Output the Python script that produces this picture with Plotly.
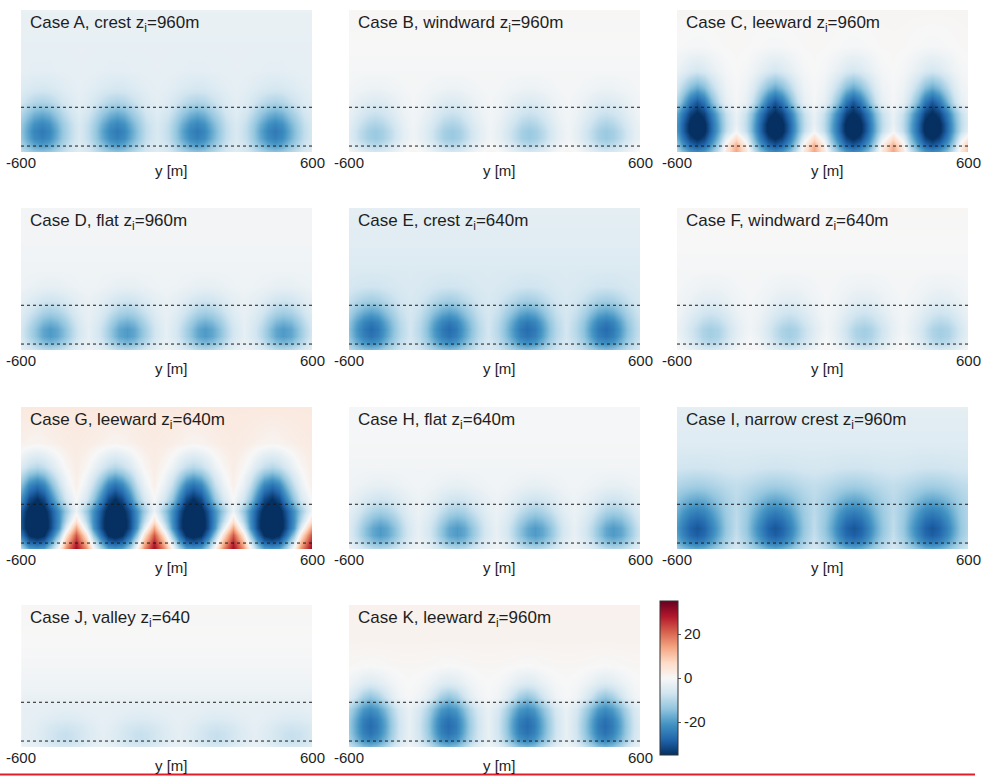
import plotly.graph_objects as go

# Lateral coordinate y [m] and normalised height of the section grid
Y_RANGE = [-600, 600]
Y_TICKS = [-600, 600]
HEIGHTS = [0.0, 0.05, 0.10, 0.15, 0.20, 0.27, 0.35, 0.45, 0.58, 0.75, 1.0]
# distance [m] from a cell centre for the section columns; the last column is mid-gap
OFFSETS = [0, 30, 60, 90, 120]
DASHED_LEVELS = [0.315, 0.042]

TITLES = [
    "Case A, crest z<sub>i</sub>=960m",
    "Case B, windward z<sub>i</sub>=960m",
    "Case C, leeward z<sub>i</sub>=960m",
    "Case D, flat z<sub>i</sub>=960m",
    "Case E, crest z<sub>i</sub>=640m",
    "Case F, windward z<sub>i</sub>=640m",
    "Case G, leeward z<sub>i</sub>=640m",
    "Case H, flat z<sub>i</sub>=640m",
    "Case I, narrow crest z<sub>i</sub>=960m",
    "Case J, valley z<sub>i</sub>=640",
    "Case K, leeward z<sub>i</sub>=960m",
]

# roll-cell centres [m] per case
A_CELLS = [-515, -205, 125, 447]
B_CELLS = [-493, -177, 143, 460]
C_CELLS = [-518, -196, 126, 452]
D_CELLS = [-480, -164, 159, 482]
E_CELLS = [-510, -188, 135, 458]
F_CELLS = [-463, -139, 170, 486]
G_CELLS = [-535, -212, 111, 434]
H_CELLS = [-472, -156, 167, 490]
I_CELLS = [-518, -195, 128, 452]
J_CELLS = [-419, -109, 207, 516]
K_CELLS = [-513, -190, 133, 456]

# section values: one row per height level, columns = OFFSETS + mid-gap
A_SECTION = [
    [-14, -13.1, -10.7, -8.1, -5.9, -4.2],
    [-20, -18.5, -14.9, -10.8, -7.3, -4.7],
    [-24, -22.2, -17.8, -12.8, -8.6, -5.4],
    [-25, -23.1, -18.5, -13.2, -8.8, -5.5],
    [-23, -21.3, -17.1, -12.4, -8.4, -5.3],
    [-18, -16.7, -13.5, -9.9, -6.8, -4.5],
    [-11, -10.3, -8.5, -6.5, -4.8, -3.6],
    [-6, -5.7, -5.1, -4.3, -3.7, -3.2],
    [-3.5, -3.5, -3.3, -3.2, -3.1, -3],
    [-3, -3, -3, -3, -3, -3],
    [-2.5, -2.5, -2.5, -2.5, -2.5, -2.5],
]
B_SECTION = [
    [-6, -5.3, -3.7, -1.8, -0.2, 1],
    [-10, -9.1, -6.7, -4.1, -1.9, -0.2],
    [-13, -11.9, -9.1, -6, -3.4, -1.4],
    [-13, -11.9, -9.1, -6, -3.4, -1.4],
    [-11, -10.1, -7.7, -5.1, -2.9, -1.2],
    [-8, -7.3, -5.7, -3.8, -2.2, -1],
    [-5, -4.6, -3.6, -2.5, -1.5, -0.8],
    [-2, -1.9, -1.5, -1.2, -0.8, -0.6],
    [-0.5, -0.5, -0.5, -0.5, -0.5, -0.5],
    [0, 0, 0, 0, 0, 0],
    [0.3, 0.3, 0.3, 0.3, 0.3, 0.3],
]
C_SECTION = [
    [-22, -20, -14.6, -6.9, 4, 14],
    [-30, -27.3, -20.2, -10.8, 2, 12.5],
    [-36, -32.8, -24.6, -14.6, -3.5, 6],
    [-40, -36.4, -27.6, -17.6, -8.6, -1],
    [-40, -36.4, -27.6, -17.6, -9.2, -2.5],
    [-36, -32.8, -24.8, -15.8, -8.3, -2.3],
    [-30, -25.5, -16.5, -8.4, -3, -0.6],
    [-18, -15.3, -9.9, -5, -1.8, -0.4],
    [-6, -5.1, -3.3, -1.7, -0.6, 0],
    [-0.5, -0.4, -0.2, 0, 0.2, 0.3],
    [0.5, 0.5, 0.5, 0.5, 0.5, 0.5],
]
D_SECTION = [
    [-10, -9.2, -7.2, -5, -3.1, -1.6],
    [-16, -14.7, -11.5, -7.9, -4.8, -2.5],
    [-20, -18.4, -14.4, -9.9, -6.1, -3.3],
    [-20, -18.4, -14.4, -9.9, -6.1, -3.3],
    [-17, -15.7, -12.4, -8.6, -5.5, -3.1],
    [-12, -11.1, -8.9, -6.4, -4.3, -2.7],
    [-7, -6.6, -5.5, -4.2, -3.2, -2.4],
    [-3, -2.9, -2.5, -2.2, -1.8, -1.6],
    [-1.5, -1.5, -1.5, -1.5, -1.5, -1.5],
    [-1, -1, -1, -1, -1, -1],
    [-1, -1, -1, -1, -1, -1],
]
E_SECTION = [
    [-15, -14.1, -11.7, -9.1, -6.9, -5.2],
    [-22, -20.4, -16.6, -12.2, -8.5, -5.7],
    [-26, -24.1, -19.5, -14.2, -9.8, -6.5],
    [-27, -25, -20.2, -14.7, -10.1, -6.5],
    [-25, -23.2, -18.8, -13.8, -9.6, -6.4],
    [-19, -17.7, -14.7, -11.2, -8.2, -6],
    [-12, -11.4, -9.8, -8.1, -6.6, -5.5],
    [-7, -6.8, -6.4, -5.9, -5.5, -5.1],
    [-5, -5, -5, -5, -5, -5],
    [-4, -4, -4, -4, -4, -4],
    [-3.5, -3.5, -3.5, -3.5, -3.5, -3.5],
]
F_SECTION = [
    [-6, -5.3, -3.7, -1.8, -0.2, 1],
    [-10, -9.1, -6.7, -4.1, -1.9, -0.2],
    [-12, -10.9, -8.3, -5.3, -2.8, -0.8],
    [-12, -11, -8.4, -5.6, -3.1, -1.3],
    [-10, -9.1, -7.1, -4.7, -2.7, -1.2],
    [-7, -6.4, -5, -3.4, -2, -1],
    [-4, -3.7, -2.9, -2, -1.3, -0.7],
    [-2, -1.9, -1.5, -1.2, -0.8, -0.6],
    [-0.5, -0.5, -0.5, -0.5, -0.5, -0.5],
    [0, 0, 0, 0, 0, 0],
    [0.3, 0.3, 0.3, 0.3, 0.3, 0.3],
]
G_SECTION = [
    [-20, -18.6, -10.8, 1.5, 17, 30],
    [-30, -27.9, -18.7, -5, 11.5, 27],
    [-38, -35.3, -26.3, -13, 5, 22],
    [-42, -39, -31.1, -20, -4, 14],
    [-42, -39, -31.3, -21.4, -9.5, 5],
    [-40, -37.2, -30, -21.2, -12.8, -2],
    [-35, -31.5, -22.8, -13.3, -6, 0],
    [-26, -22.9, -15.6, -8, -2.5, 2],
    [-10, -8.5, -5.5, -2, 0.5, 2.5],
    [1, 1.3, 1.8, 2.3, 2.7, 3],
    [3.5, 3.5, 3.5, 3.5, 3.5, 3.5],
]
H_SECTION = [
    [-10, -9.1, -7.1, -4.7, -2.7, -1.2],
    [-16, -14.7, -11.4, -7.6, -4.5, -2.1],
    [-20, -18.3, -14.3, -9.6, -5.8, -2.8],
    [-20, -18.3, -14.3, -9.6, -5.8, -2.8],
    [-17, -15.6, -12.2, -8.3, -5.1, -2.6],
    [-12, -11.1, -8.7, -6.1, -3.9, -2.2],
    [-7, -6.5, -5.3, -3.9, -2.8, -1.9],
    [-3, -2.8, -2.4, -1.9, -1.5, -1.1],
    [-1, -1, -1, -1, -1, -1],
    [-0.5, -0.5, -0.5, -0.5, -0.5, -0.5],
    [-0.5, -0.5, -0.5, -0.5, -0.5, -0.5],
]
I_SECTION = [
    [-18, -17, -14.5, -11.4, -8.5, -6],
    [-25, -23.6, -19.9, -15.4, -11.1, -7.4],
    [-29, -27.3, -23, -17.7, -12.7, -8.4],
    [-30, -28.3, -23.9, -18.5, -13.3, -8.9],
    [-28, -26.5, -22.5, -17.7, -13, -9.1],
    [-24, -22.8, -19.8, -16, -12.4, -9.4],
    [-18, -17.3, -15.5, -13.3, -11.2, -9.4],
    [-12, -11.7, -11, -10.1, -9.3, -8.6],
    [-7, -6.9, -6.8, -6.5, -6.3, -6.1],
    [-4.5, -4.5, -4.5, -4.5, -4.5, -4.5],
    [-3.5, -3.5, -3.5, -3.5, -3.5, -3.5],
]
J_SECTION = [
    [-6, -5.6, -4.8, -3.8, -2.9, -2.3],
    [-8, -7.6, -6.5, -5.2, -4.2, -3.4],
    [-8, -7.6, -6.5, -5.2, -4.2, -3.4],
    [-7, -6.6, -5.8, -4.8, -3.9, -3.3],
    [-5, -4.8, -4.4, -3.9, -3.5, -3.1],
    [-3.5, -3.5, -3.3, -3.2, -3.1, -3],
    [-2.5, -2.5, -2.5, -2.5, -2.5, -2.5],
    [-1.5, -1.5, -1.5, -1.5, -1.5, -1.5],
    [-0.7, -0.7, -0.7, -0.7, -0.7, -0.7],
    [0, 0, 0, 0, 0, 0],
    [0.3, 0.3, 0.3, 0.3, 0.3, 0.3],
]
K_SECTION = [
    [-16, -14.6, -11, -7, -3.7, -1.1],
    [-23, -21, -16.2, -10.7, -6.1, -2.5],
    [-26, -23.8, -18.3, -12, -6.8, -2.8],
    [-27, -24.7, -18.9, -12.4, -7, -2.8],
    [-26, -23.8, -18.3, -12, -6.8, -2.8],
    [-22, -20.1, -15.5, -10.2, -5.8, -2.5],
    [-14, -11.9, -7.7, -3.9, -1.4, -0.3],
    [-5, -4.3, -2.8, -1.4, -0.5, 0],
    [0, 0.1, 0.3, 0.4, 0.5, 0.5],
    [1.2, 1.2, 1.2, 1.2, 1.2, 1.2],
    [1.5, 1.5, 1.5, 1.5, 1.5, 1.5],
]

CELLS = [A_CELLS, B_CELLS, C_CELLS, D_CELLS, E_CELLS, F_CELLS,
         G_CELLS, H_CELLS, I_CELLS, J_CELLS, K_CELLS]
SECTIONS = [A_SECTION, B_SECTION, C_SECTION, D_SECTION, E_SECTION, F_SECTION,
            G_SECTION, H_SECTION, I_SECTION, J_SECTION, K_SECTION]

COLORBAR_TICKS = [-20, 0, 20]
C_LIMITS = [-35, 35]

RDBU_R = [
    [0.0, "rgb(5,48,97)"], [0.1, "rgb(33,102,172)"], [0.2, "rgb(67,147,195)"],
    [0.3, "rgb(146,197,222)"], [0.4, "rgb(209,229,240)"], [0.5, "rgb(247,247,247)"],
    [0.6, "rgb(253,219,199)"], [0.7, "rgb(244,165,130)"], [0.8, "rgb(214,96,77)"],
    [0.9, "rgb(178,24,43)"], [1.0, "rgb(103,0,31)"],
]

W, H = 983, 777
COL_LEFT = [21, 349, 677]
PANEL_W = 291
ROW_TOP = [10, 208, 407, 605]
PANEL_H = 142
FONT = "Liberation Sans, Arial, sans-serif"
TXT = "#1e1e1e"


def section_grid(cells, section):
    """Lay the section columns symmetrically around every cell centre."""
    gap = len(OFFSETS)
    half = 160
    ring = [(-o, i) for i, o in reversed(list(enumerate(OFFSETS))) if o > 0]
    ring += [(o, i) for i, o in enumerate(OFFSETS)]
    xs, cols = [cells[0] - half], [gap]
    for k, c in enumerate(cells):
        for off, ci in ring:
            xs.append(c + off)
            cols.append(ci)
        xs.append((c + cells[k + 1]) / 2 if k < len(cells) - 1 else c + half)
        cols.append(gap)
    z = [[row[ci] for ci in cols] for row in section]
    return xs, z


fig = go.Figure()
shapes, annotations = [], []

for n in range(11):
    r, c = divmod(n, 3)
    ax = "" if n == 0 else str(n + 1)
    x0 = COL_LEFT[c] / W
    x1 = (COL_LEFT[c] + PANEL_W) / W
    y1 = 1 - ROW_TOP[r] / H
    y0 = 1 - (ROW_TOP[r] + PANEL_H) / H

    xs, z = section_grid(CELLS[n], SECTIONS[n])
    fig.add_trace(go.Heatmap(
        x=xs, y=HEIGHTS, z=z, coloraxis="coloraxis", zsmooth="best",
        xaxis="x" + ax, yaxis="y" + ax, hoverinfo="skip",
    ))

    fig.layout["xaxis" + ax] = dict(
        domain=[x0, x1], anchor="y" + ax, range=Y_RANGE,
        showticklabels=False, ticks="",
        showgrid=False, zeroline=False, showline=False,
    )
    fig.layout["yaxis" + ax] = dict(
        domain=[y0, y1], anchor="x" + ax, range=[0, 1],
        visible=False, showgrid=False, zeroline=False,
    )

    for lev in DASHED_LEVELS:
        shapes.append(dict(
            type="line", xref="x" + ax + " domain", yref="y" + ax,
            x0=0, x1=1, y0=lev, y1=lev,
            line=dict(color="#1a1a1a", width=1, dash="3px,3px"),
        ))

    # panel title inside the top-left corner
    annotations.append(dict(
        text=TITLES[n], xref="x" + ax + " domain", yref="y" + ax + " domain",
        x=7 / PANEL_W, y=1 - 1 / PANEL_H, xanchor="left", yanchor="top",
        showarrow=False, font=dict(size=17, family=FONT, color=TXT),
    ))
    # end labels of the lateral axis
    for tv in Y_TICKS:
        annotations.append(dict(
            text=str(tv), xref="x" + ax, yref="y" + ax + " domain",
            x=tv, y=-10 / PANEL_H, xanchor="center", yanchor="middle",
            showarrow=False, font=dict(size=15, family=FONT, color=TXT),
        ))
    annotations.append(dict(
        text="y [m]", xref="x" + ax, yref="y" + ax + " domain",
        x=20, y=-18 / PANEL_H, xanchor="center", yanchor="middle",
        showarrow=False, font=dict(size=15, family=FONT, color=TXT),
    ))

# red rule along the bottom of the figure
shapes.append(dict(
    type="line", xref="paper", yref="paper", x0=0, x1=975 / W,
    y0=1 - 774.5 / H, y1=1 - 774.5 / H,
    line=dict(color="rgb(225,30,40)", width=2),
))

fig.update_layout(
    width=W, height=H, margin=dict(l=0, r=0, t=0, b=0),
    paper_bgcolor="white", plot_bgcolor="white",
    showlegend=False, shapes=shapes, annotations=annotations,
    font=dict(family=FONT, color=TXT, size=15),
    coloraxis=dict(
        colorscale=RDBU_R, cmin=C_LIMITS[0], cmax=C_LIMITS[1],
        colorbar=dict(
            x=660 / W, xanchor="left", y=1 - 678 / H, yanchor="middle",
            thickness=18, thicknessmode="pixels", len=154, lenmode="pixels",
            outlinewidth=1, outlinecolor="#333",
            tickvals=COLORBAR_TICKS, ticktext=[str(v) for v in COLORBAR_TICKS],
            ticks="outside", ticklen=3, tickcolor="#555",
            tickfont=dict(size=15, family=FONT, color=TXT),
            xpad=0, ypad=0,
        ),
    ),
)

fig.write_html("out.html")
